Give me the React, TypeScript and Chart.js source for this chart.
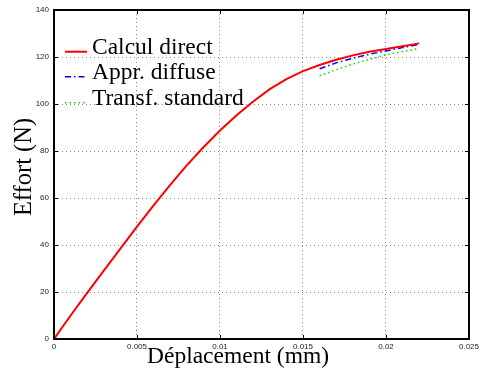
import React, { useEffect, useRef } from "react";
import { Chart, registerables } from "chart.js";

Chart.register(...registerables);

// ---- data ----
const xDirect = [0, 0.001, 0.002, 0.003, 0.004, 0.005, 0.006, 0.007, 0.008, 0.009, 0.010, 0.011, 0.012, 0.013, 0.014, 0.015, 0.016, 0.017, 0.018, 0.019, 0.020, 0.021, 0.022];
const yDirect = [0, 10, 19.6, 29.1, 38.5, 47.8, 56.9, 65.6, 73.9, 81.6, 88.7, 95.2, 101.1, 106.3, 110.6, 114, 116.6, 118.8, 120.7, 122.2, 123.4, 124.6, 125.8];

const xDiffuse = [0.016, 0.017, 0.018, 0.019, 0.020, 0.021, 0.022];
const yDiffuse = [115, 117.5, 119.5, 121.2, 122.6, 124, 125.4];

const xStandard = [0.016, 0.017, 0.018, 0.019, 0.020, 0.021, 0.022];
const yStandard = [112, 114.6, 117, 119, 120.9, 122.3, 123.6];

const seriesLabels = ["Calcul direct", "Appr. diffuse", "Transf. standard"];
const xTitle = "Déplacement (mm)";
const yTitle = "Effort (N)";
const xTicks = [0, 0.005, 0.01, 0.015, 0.02, 0.025];
const yTicks = [0, 20, 40, 60, 80, 100, 120, 140];

const colors = ["#ff0000", "#0000ff", "#00dd00"];
const dashes: number[][] = [[], [6, 3, 1.5, 3], [1.5, 3]];
const widths = [2, 1.5, 1.5];

const toPts = (xs: number[], ys: number[]) => xs.map((x, i) => ({ x, y: ys[i] }));

const decorPlugin = {
  id: "decor",
  afterDraw(chart: any) {
    const { ctx, chartArea } = chart;
    const { left, right, top, bottom } = chartArea;
    const xs = chart.scales.x;
    const ys = chart.scales.y;
    ctx.save();
    // inner tick marks
    ctx.strokeStyle = "#000";
    ctx.lineWidth = 1;
    ctx.setLineDash([]);
    const tl = 4;
    xTicks.forEach((v) => {
      const px = Math.round(xs.getPixelForValue(v)) + 0.5;
      ctx.beginPath();
      ctx.moveTo(px, bottom);
      ctx.lineTo(px, bottom - tl);
      ctx.moveTo(px, top);
      ctx.lineTo(px, top + tl);
      ctx.stroke();
    });
    yTicks.forEach((v) => {
      const py = Math.round(ys.getPixelForValue(v)) + 0.5;
      ctx.beginPath();
      ctx.moveTo(left, py);
      ctx.lineTo(left + tl, py);
      ctx.moveTo(right, py);
      ctx.lineTo(right - tl, py);
      ctx.stroke();
    });
    // box
    ctx.lineWidth = 2;
    ctx.strokeRect(left, top, right - left, bottom - top);

    // legend
    const lx0 = left + 11;
    const lx1 = left + 33;
    const tx = left + 38;
    const rows = [top + 41.7, top + 66.7, top + 92.7];
    ctx.font = '23.5px "Liberation Serif"';
    ctx.textAlign = "left";
    ctx.textBaseline = "alphabetic";
    seriesLabels.forEach((lab, i) => {
      ctx.strokeStyle = colors[i];
      ctx.lineWidth = widths[i];
      ctx.setLineDash(dashes[i]);
      ctx.beginPath();
      ctx.moveTo(lx0, rows[i]);
      ctx.lineTo(lx1, rows[i]);
      ctx.stroke();
      ctx.setLineDash([]);
      ctx.fillStyle = "#000";
      ctx.fillText(lab, tx, rows[i] + 1.8);
    });

    // axis titles
    ctx.fillStyle = "#000";
    ctx.textAlign = "center";
    ctx.fillText(xTitle, 238, 363);
    ctx.font = '24.5px "Liberation Serif"';
    ctx.translate(31, 167);
    ctx.rotate(-Math.PI / 2);
    ctx.fillText(yTitle, 0, 0);
    ctx.restore();
  },
};

export default function App() {
  const ref = useRef<HTMLCanvasElement>(null);
  useEffect(() => {
    if (!ref.current) return;
    const chart = new Chart(ref.current, {
      type: "line",
      data: {
        datasets: [
          { label: seriesLabels[0], data: toPts(xDirect, yDirect) },
          { label: seriesLabels[1], data: toPts(xDiffuse, yDiffuse) },
          { label: seriesLabels[2], data: toPts(xStandard, yStandard) },
        ].map((d, i) => ({
          ...d,
          borderColor: colors[i],
          backgroundColor: colors[i],
          borderWidth: widths[i],
          borderDash: dashes[i],
          pointRadius: 0,
          fill: false,
          tension: 0,
        })),
      },
      options: {
        responsive: false,
        animation: false,
        devicePixelRatio: 1,
        layout: { padding: { left: 0, top: 10, right: 11, bottom: 0 } },
        plugins: { legend: { display: false }, tooltip: { enabled: false } },
        scales: {
          x: {
            type: "linear",
            min: 0,
            max: 0.025,
            afterFit: (s: any) => {
              s.height = 31;
            },
            afterBuildTicks: (s: any) => {
              s.ticks = xTicks.map((v) => ({ value: v }));
            },
            ticks: {
              autoSkip: false,
              maxRotation: 0,
              padding: 3,
              color: "#222",
              font: { family: '"Liberation Sans"', size: 8 },
              callback: (v: any) => String(Number(Number(v).toFixed(3))),
            },
            grid: { color: "#888", lineWidth: 1, drawTicks: false },
            border: { display: false, dash: [1, 3] },
            title: { display: false },
          },
          y: {
            type: "linear",
            min: 0,
            max: 140,
            afterFit: (s: any) => {
              s.width = 54;
            },
            afterBuildTicks: (s: any) => {
              s.ticks = yTicks.map((v) => ({ value: v }));
            },
            ticks: {
              autoSkip: false,
              padding: 5,
              color: "#222",
              font: { family: '"Liberation Sans"', size: 8 },
            },
            grid: { color: "#888", lineWidth: 1, drawTicks: false },
            border: { display: false, dash: [1, 3] },
            title: { display: false },
          },
        },
      },
      plugins: [decorPlugin],
    } as any);
    return () => chart.destroy();
  }, []);
  return (
    <div style={{ position: "fixed", left: 0, top: 0, width: 482, height: 370, background: "#fff" }}>
      <canvas ref={ref} width={482} height={370} style={{ width: 482, height: 370, display: "block" }} />
    </div>
  );
}
